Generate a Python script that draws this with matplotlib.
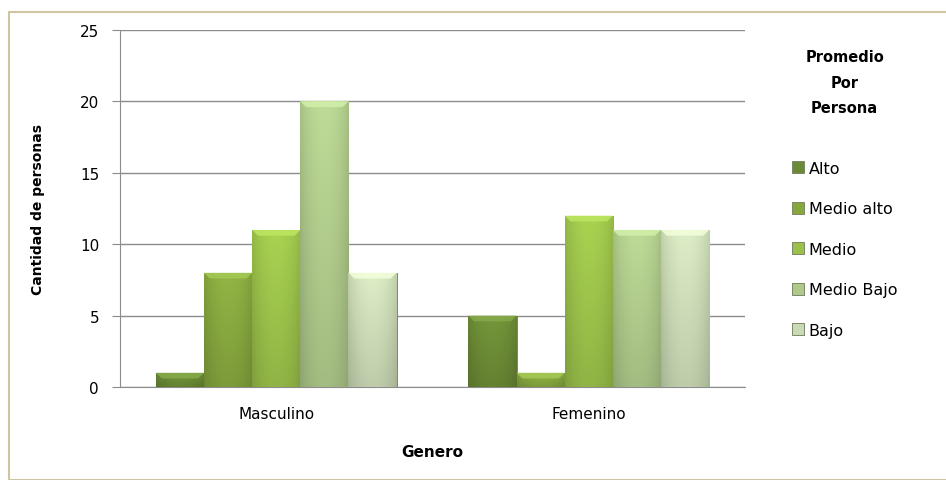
import numpy as np
import matplotlib.pyplot as plt
from matplotlib.colors import to_rgb
from matplotlib.patches import Rectangle

generos = ['Masculino', 'Femenino']
niveles = ['Alto', 'Medio alto', 'Medio', 'Medio Bajo', 'Bajo']
alto = [1, 5]
medio_alto = [8, 1]
medio = [11, 12]
medio_bajo = [20, 11]
bajo = [8, 11]
series = [alto, medio_alto, medio, medio_bajo, bajo]
colores = ['#6b8a35', '#86a63e', '#9bc14a', '#aec98a', '#cbdab6']

fig = plt.figure(figsize=(9.46, 4.81), dpi=100)
fig.patches.append(Rectangle((9 / 946, 0), 1.0, 1 - 13 / 481, transform=fig.transFigure,
                             fill=False, edgecolor='#cdc6a0', linewidth=1.5))
ax = fig.add_axes([0.1268, 0.1933, 0.6607, 0.7422])

x = np.arange(len(generos))
ancho = 0.154


def sombrear(rect, color):
    # shading: darker towards the edges and towards the base
    base = np.array(to_rgb(color))
    t = np.linspace(0, 1, 64)
    fh = 0.84 + 0.2 * np.sin(np.pi * (t * 0.9 + 0.05)) ** 0.6
    x0, y0 = rect.get_x(), rect.get_y()
    w, h = rect.get_width(), rect.get_height()
    v = np.linspace(1.05, 0.9, 64)
    f = v[:, None] * fh[None, :]
    img = np.clip(base[None, None, :] * f[:, :, None], 0, 1)
    im = ax.imshow(img, extent=(x0, x0 + w, y0, y0 + h), aspect='auto', zorder=3,
                   interpolation='bilinear', origin='upper')
    im.set_clip_path(rect)
    # lighter bevel at the top
    cap = min(0.4, h)
    top = np.clip(base * 1.12 + 0.06, 0, 1)
    ax.fill([x0, x0 + w, x0 + w * 0.88, x0 + w * 0.12], [y0 + h, y0 + h, y0 + h - cap, y0 + h - cap],
            color=top, zorder=4, alpha=0.85, linewidth=0)


handles = []
for i, (vals, c) in enumerate(zip(series, colores)):
    bars = ax.bar(x - 2 * ancho + i * ancho, vals, ancho, color=c,
                  edgecolor='#7d8868', linewidth=0.7, zorder=2, label=niveles[i])
    for b in bars:
        sombrear(b, c)
    handles.append(bars)

ax.set_xlim(-0.5, 1.5)
ax.set_ylim(0, 25)
ax.set_yticks([0, 5, 10, 15, 20, 25])
ax.yaxis.grid(True, color='#8c8c8c', linewidth=1.0)
ax.set_axisbelow(True)
for s in ['top', 'right']:
    ax.spines[s].set_visible(False)
ax.spines['left'].set_color('#8c8c8c')
ax.spines['bottom'].set_color('#8c8c8c')
ax.tick_params(axis='y', length=6, color='#8c8c8c', labelsize=11, pad=9)
ax.tick_params(axis='x', length=0, labelsize=11, pad=14)
ax.set_xticks(x)
ax.set_xticklabels(generos)
ax.set_ylabel('Cantidad de personas', fontsize=10, fontweight='bold', labelpad=25)
ax.set_xlabel('Genero', fontsize=11, fontweight='bold', labelpad=16)

leg = fig.legend(handles=handles, labels=niveles, loc='upper left',
                 bbox_to_anchor=(0.822, 0.925), frameon=False, fontsize=11.5,
                 title='Promedio\nPor\nPersona', handlelength=0.75, handleheight=0.75,
                 handletextpad=0.3, labelspacing=1.6)
leg.get_title().set_fontweight('bold')
leg.get_title().set_fontsize(10.5)
leg.get_title().set_multialignment('center')
leg.get_title().set_linespacing(1.85)
leg._legend_box.sep = 33

fig.savefig('out.png', dpi=100)
